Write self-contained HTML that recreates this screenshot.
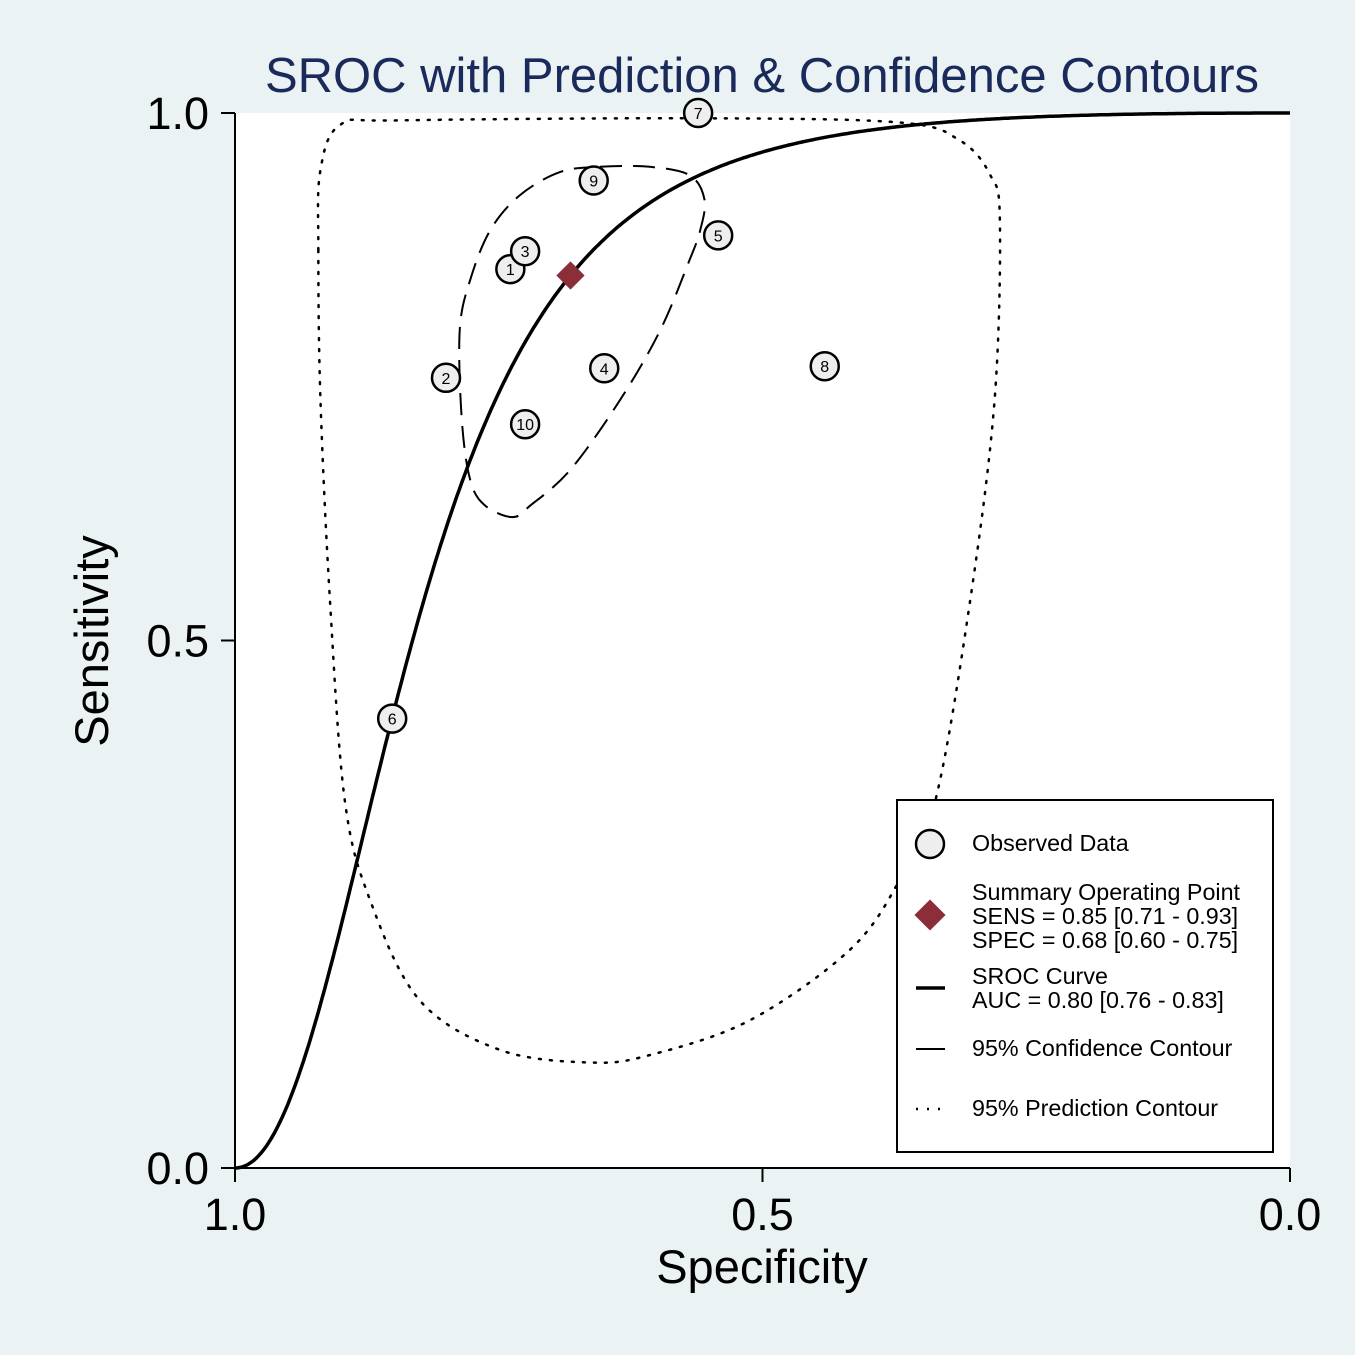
<!DOCTYPE html>
<html><head><meta charset="utf-8"><style>
html,body{margin:0;padding:0;background:#eaf2f3;}
svg{display:block;font-family:"Liberation Sans",Arial,sans-serif;}
</style></head><body>
<svg id="chart" width="1355" height="1355" viewBox="0 0 1355 1355">
<rect x="0" y="0" width="1355" height="1355" fill="#eaf2f3"/>
<rect x="235" y="113" width="1055" height="1055" fill="#ffffff"/>
<text x="762" y="92" text-anchor="middle" font-size="49" fill="#1a2a5a">SROC with Prediction &amp; Confidence Contours</text>
<g id="axes"></g>
<g id="marks"></g>
<g>
<rect x="897" y="800" width="376" height="352" fill="#fff" stroke="#000" stroke-width="2"/>
<circle cx="930" cy="844" r="14" fill="#eeeeee" stroke="#000" stroke-width="2.5"/>
<text x="972" y="851" font-size="23.3">Observed Data</text>
<rect x="919" y="904" width="22" height="22" fill="#8b2e3a" transform="rotate(45 930 915)"/>
<text x="972" y="900" font-size="23.3">Summary Operating Point</text>
<text x="972" y="924" font-size="23.3">SENS = 0.85 [0.71 - 0.93]</text>
<text x="972" y="948" font-size="23.3">SPEC = 0.68 [0.60 - 0.75]</text>
<line x1="916" y1="988" x2="945" y2="988" stroke="#000" stroke-width="3.5"/>
<text x="972" y="984" font-size="23.3">SROC Curve</text>
<text x="972" y="1008" font-size="23.3">AUC = 0.80 [0.76 - 0.83]</text>
<line x1="916" y1="1049" x2="945" y2="1049" stroke="#000" stroke-width="2"/>
<text x="972" y="1056" font-size="23.3">95% Confidence Contour</text>
<line x1="916" y1="1109" x2="945" y2="1109" stroke="#000" stroke-width="2.5" stroke-dasharray="2,9"/>
<text x="972" y="1116" font-size="23.3">95% Prediction Contour</text>
</g>
</svg>
<script>
const studyIds = ["1","2","3","4","5","6","7","8","9","10"];
const studySpec = [0.739,0.800,0.725,0.650,0.542,0.851,0.561,0.441,0.660,0.725];
const studySens = [0.852,0.749,0.869,0.758,0.884,0.426,1.000,0.760,0.936,0.705];
const summarySpec = [0.682];
const summarySens = [0.846];
const srocAlpha = [3.26];
const srocBeta = [2.04];
const confSpec = [0.654,0.607,0.569,0.555,0.559,0.569,0.597,0.635,0.682,0.720,0.737,0.763,0.777,0.785,0.787,0.777,0.758,0.730,0.692];
const confSens = [0.949,0.949,0.941,0.918,0.889,0.861,0.794,0.728,0.662,0.628,0.617,0.628,0.652,0.709,0.794,0.842,0.889,0.922,0.944];
const predSpec = [0.921,0.919,0.900,0.844,0.559,0.370,0.313,0.284,0.275,0.280,0.303,0.336,0.370,0.417,0.512,0.607,0.664,0.749,0.825,0.872,0.896,0.910,0.919];
const predSens = [0.870,0.946,0.989,0.993,0.995,0.991,0.974,0.941,0.898,0.728,0.539,0.349,0.273,0.207,0.140,0.107,0.100,0.112,0.159,0.254,0.349,0.538,0.728];
const xTicks = [1.0,0.5,0.0];
const xTickLabels = ["1.0","0.5","0.0"];
const yTicks = [0.0,0.5,1.0];
const yTickLabels = ["0.0","0.5","1.0"];

const NS="http://www.w3.org/2000/svg";
const X0=235,X1=1290,Y0=1168,Y1=113;
function xs(spec){return X0+(1-spec)*(X1-X0);}
function ys(sens){return Y0-sens*(Y0-Y1);}
function mk(tag,attrs,parent){const e=document.createElementNS(NS,tag);for(const k in attrs)e.setAttribute(k,attrs[k]);parent.appendChild(e);return e;}
const axes=document.getElementById('axes'), marks=document.getElementById('marks');

let ax=mk('line',{x1:X0,y1:Y1,x2:X0,y2:Y0,stroke:'#000','stroke-width':2},axes);


let bx=mk('line',{x1:X0,y1:Y0,x2:X1,y2:Y0,stroke:'#000','stroke-width':2},axes);


xTicks.forEach((v,i)=>{
  const t=mk('line',{x1:xs(v),y1:Y0,x2:xs(v),y2:Y0+14,stroke:'#000','stroke-width':2},axes);
  
  
  const l=mk('text',{x:xs(v),y:Y0+62,'text-anchor':'middle','font-size':45},axes);
  l.textContent=xTickLabels[i];
  
  
});
yTicks.forEach((v,i)=>{
  const t=mk('line',{x1:X0-14,y1:ys(v),x2:X0,y2:ys(v),stroke:'#000','stroke-width':2},axes);
  
  
  const l=mk('text',{x:X0-26,y:ys(v)+16,'text-anchor':'end','font-size':45},axes);
  l.textContent=yTickLabels[i];
  
  
});
let xt=mk('text',{x:762,y:1283,'text-anchor':'middle','font-size':47},axes);
xt.textContent='Specificity';


let yt=mk('text',{x:0,y:0,'text-anchor':'middle','font-size':47,transform:'translate(108,641) rotate(-90)'},axes);
yt.textContent='Sensitivity';



function closedSmooth(sp,se){
  const P=sp.map((s,i)=>[xs(s),ys(se[i])]);const n=P.length;
  let d=`M${P[0][0]},${P[0][1]}`;
  for(let i=0;i<n;i++){
    const p0=P[(i-1+n)%n],p1=P[i],p2=P[(i+1)%n],p3=P[(i+2)%n];
    const c1=[p1[0]+(p2[0]-p0[0])/6,p1[1]+(p2[1]-p0[1])/6];
    const c2=[p2[0]-(p3[0]-p1[0])/6,p2[1]-(p3[1]-p1[1])/6];
    d+=`C${c1[0]},${c1[1]} ${c2[0]},${c2[1]} ${p2[0]},${p2[1]}`;
  }
  return d+'Z';
}
let pr=mk('path',{d:closedSmooth(predSpec,predSens),fill:'none',stroke:'#000','stroke-width':2.5,'stroke-dasharray':'2,9','stroke-linecap':'round'},marks);


let cf=mk('path',{d:closedSmooth(confSpec,confSens),fill:'none',stroke:'#000','stroke-width':2,'stroke-dasharray':'22,11'},marks);



let pts=[];
for(let i=0;i<=400;i++){
  const fpr=Math.max(1e-6,Math.min(1-1e-6,i/400));
  const lg=Math.log(fpr/(1-fpr));
  const sens=1/(1+Math.exp(-(srocAlpha[0]+srocBeta[0]*lg)));
  pts.push(`${xs(1-fpr).toFixed(1)},${ys(sens).toFixed(1)}`);
}
let sc=mk('polyline',{points:pts.join(' '),fill:'none',stroke:'#000','stroke-width':3.5},marks);



studyIds.forEach((id,i)=>{
  const c=mk('circle',{cx:xs(studySpec[i]),cy:ys(studySens[i]),r:14,fill:'#eeeeee',stroke:'#000','stroke-width':2.5},marks);
  
  
  const t=mk('text',{x:xs(studySpec[i]),y:ys(studySens[i])+6,'text-anchor':'middle','font-size':16},marks);
  t.textContent=id;
  
  
});
const sx=xs(summarySpec[0]),sy=ys(summarySens[0]);
let sm=mk('rect',{x:sx-10,y:sy-10,width:20,height:20,fill:'#8b2e3a',transform:`rotate(45 ${sx} ${sy})`},marks);


</script>
</body></html>
